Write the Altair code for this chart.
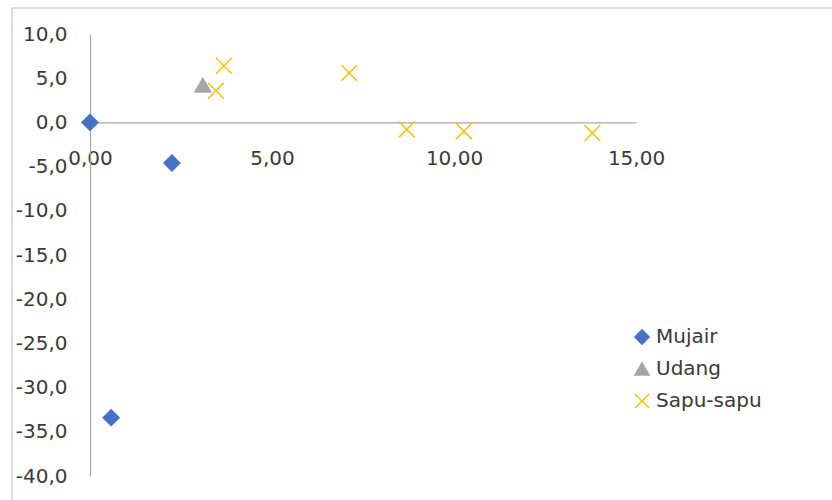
import altair as alt
import pandas as pd

# Series names, colours and point values
series_names = ["Mujair", "Udang", "Sapu-sapu"]
series_colors = ["#4472C4", "#A5A5A5", "#FFC000"]
series_shapes = ["diamond", "triangle-up", "M-1,-1L1,1M-1,1L1,-1"]

mujair_x = [0.0, 2.25, 0.58]
mujair_y = [0.0, -4.6, -33.4]

udang_x = [3.1]
udang_y = [4.2]

sapu_x = [3.46, 3.68, 7.12, 8.70, 10.27, 13.80]
sapu_y = [3.6, 6.4, 5.6, -0.8, -1.0, -1.2]

x_ticks = [0, 5, 10, 15]
y_ticks = [-40, -35, -30, -25, -20, -15, -10, -5, 0, 5, 10]

rows = []
for name, xs, ys in [("Mujair", mujair_x, mujair_y),
                     ("Udang", udang_x, udang_y),
                     ("Sapu-sapu", sapu_x, sapu_y)]:
    for xv, yv in zip(xs, ys):
        rows.append({"series": name, "x": xv, "y": yv})
df = pd.DataFrame(rows)

FONT = "DejaVu Sans"
TEXT = "#3a3a3a"
AXIS_LINE = "#a6a6a6"

W, H = 546, 442
y_min, y_max = -40, 10
# pixel distance from the bottom edge of the plot up to y = 0
x_axis_offset = -(H - (y_max - 0) / (y_max - y_min) * H)

color_scale = alt.Scale(domain=series_names, range=series_colors)
shape_scale = alt.Scale(domain=series_names, range=series_shapes)

legend = alt.Legend(
    title=None, orient="none", legendX=542, legendY=293,
    labelFont=FONT, labelFontSize=20, labelColor=TEXT,
    symbolSize=200, symbolStrokeWidth=1.5, rowPadding=11, labelOffset=4,
)

points = alt.Chart(df).mark_point(filled=True, size=250, strokeWidth=1.5, opacity=1).encode(
    x=alt.X("x:Q",
            scale=alt.Scale(domain=[0, 15], nice=False, zero=False),
            axis=alt.Axis(values=x_ticks, title=None, grid=False, ticks=False,
                          labelExpr="replace(format(datum.value, '.2f'), '.', ',')",
                          offset=x_axis_offset, labelPadding=26, labelFlush=False,
                          labelOverlap=False, labelFont=FONT, labelFontSize=20,
                          labelColor=TEXT, domainColor=AXIS_LINE, domainWidth=1.2)),
    y=alt.Y("y:Q",
            scale=alt.Scale(domain=[y_min, y_max], nice=False, zero=False),
            axis=alt.Axis(values=y_ticks, title=None, grid=False, ticks=False,
                          labelExpr="replace(replace(format(datum.value, '.1f'), '.', ','), '−', '-')",
                          labelPadding=23, labelFlush=False, labelOverlap=False,
                          labelFont=FONT, labelFontSize=20, labelColor=TEXT,
                          domainColor=AXIS_LINE, domainWidth=1.2)),
    color=alt.Color("series:N", scale=color_scale, legend=legend,
                    sort=series_names),
    stroke=alt.Stroke("series:N", scale=color_scale, legend=legend,
                      sort=series_names),
    shape=alt.Shape("series:N", scale=shape_scale, legend=legend,
                    sort=series_names),
)

# light outer frame around the chart
frame = alt.Chart(pd.DataFrame({"k": [0]})).mark_rect(
    fillOpacity=0, stroke="#cfcfcf", strokeWidth=1.5
).encode(
    x=alt.value(-78), x2=alt.value(800),
    y=alt.value(-26), y2=alt.value(520),
)

chart = alt.layer(frame, points).properties(
    width=W, height=H,
    autosize=alt.AutoSizeParams(type="none"),
    padding={"left": 90, "top": 34, "right": 196, "bottom": 24},
    background="white",
).configure_view(strokeWidth=0)

chart.save("out.html", embed_options={"renderer": "svg", "actions": False})
